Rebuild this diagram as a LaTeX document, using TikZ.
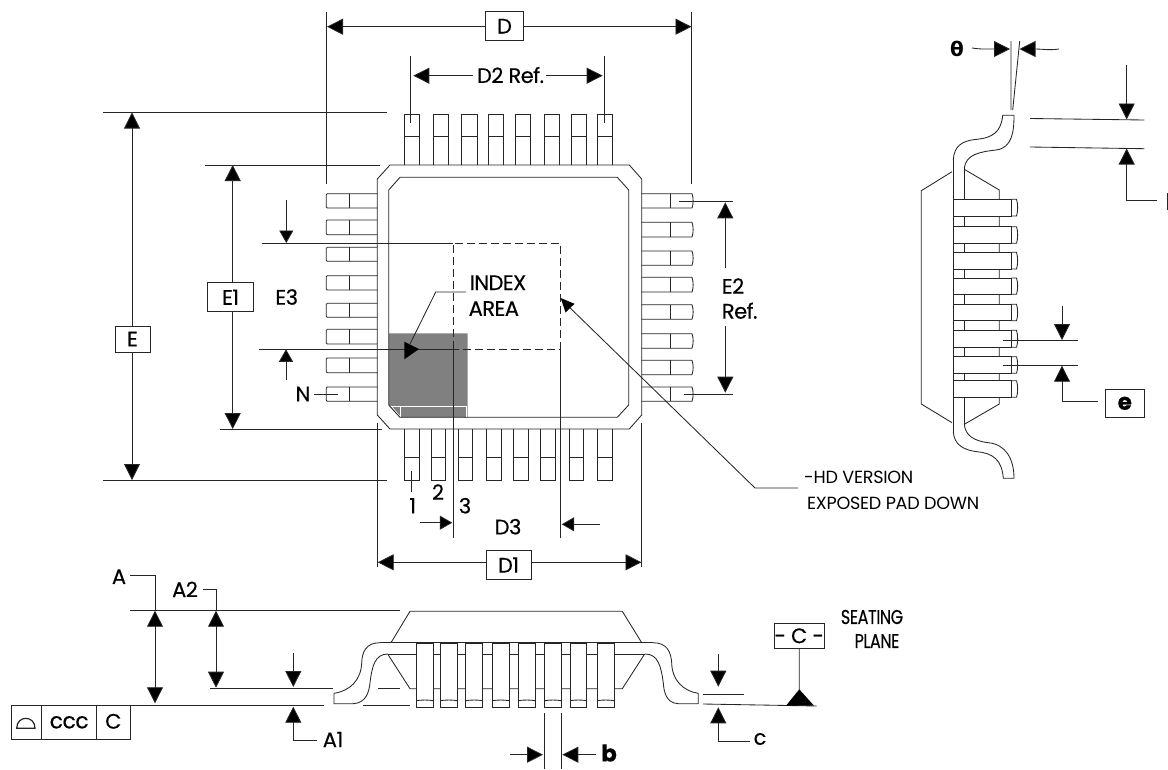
\documentclass[tikz,border=0pt]{standalone}
\usepackage{fontspec}
\setmainfont[LetterSpace=-2.5,FakeBold=0.35]{Poppins}
\newfontfamily\thinfont[LetterSpace=-1.5]{Poppins}
\newfontfamily\grk{DejaVu Sans}
\usetikzlibrary{arrows.meta}
\tikzset{
  ln/.style={line width=0.85pt,draw=black!85},
  dimto/.style={ln,-{Triangle[length=16pt,width=16pt,fill=black]}},
  dimsm/.style={ln,-{Triangle[length=12.5pt,width=14pt,fill=black]}},
  dimboth/.style={ln,{Triangle[length=16pt,width=16pt,fill=black]}-{Triangle[length=16pt,width=16pt,fill=black]}},
  lab/.style={inner sep=0pt,font=\fontsize{21}{21}\selectfont},
  thin lab/.style={inner sep=0pt,align=left,font=\thinfont\fontsize{17.6}{26}\selectfont},
  bx/.style={ln,fill=white,inner sep=0pt,font=\fontsize{21}{21}\selectfont},
  dashln/.style={ln,dash pattern=on 8pt off 4pt},
}
\begin{document}
\begin{tikzpicture}[x=1pt,y=-1pt]
\useasboundingbox (0,0) rectangle (1168,769);
\fill[white] (0,0) rectangle (1168,769);

% ---- plan view: index area
\fill[black!50] (389,333.3) -- (467.7,333.3) -- (467.7,417.3) -- (400,417.3) -- (389,405) -- cycle;
\draw[white,line width=0.9pt] (390,406.7) -- (466.3,406.7) -- (466.3,417);
\draw[white,line width=0.9pt] (400,406.7) -- (400,416.5);
\draw[white,line width=0.9pt] (391,406) -- (400,416.5);

% ---- plan view: leads
\foreach \a/\b in {404.3/419.3,433/448.3,461.7/477,488/503.3,515.3/530.7,544.3/559.7,571.3/586.7,597.3/612.7}{
  \draw[ln] (\a,165) -- (\a,114) -- (\b,114) -- (\b,165) (\a,136.7) -- (\b,136.7);}
\foreach \a/\b in {404.3/419.3,431.3/445.7,458/472.7,486.7/501.7,513.7/528.7,540.3/555,569.3/583.7,597.7/612.7}{
  \draw[ln] (\a,429) -- (\a,480.3) -- (\b,480.3) -- (\b,429) (\a,457) -- (\b,457);}
\foreach \a/\b in {193.7/208,220/234.7,247.3/261.3,275.7/290,303.3/317.3,329.3/344,358/372.7,387/401.3}{
  \draw[ln,rounded corners=1pt] (377.3,\a) -- (326.3,\a) -- (326.3,\b) -- (377.3,\b);
  \draw[ln] (349.3,\a) -- (349.3,\b);}
\foreach \a/\b in {193.7/208,222.3/237,251/265.3,277.3/292,304.7/319.3,333.7/348.3,360.3/374.7,387/401.3}{
  \draw[ln] (641.7,\a) -- (692,\a) .. controls (693.5,\a+4) and (693.5,\b-4) .. (692,\b) -- (641.7,\b);
  \draw[ln] (670,\a) -- (670,\b);}

% ---- plan view: body
\draw[ln] (390,165) -- (629.3,165) -- (641.7,179) -- (641.7,415) -- (629.3,429) -- (390,429) -- (377.3,415) -- (377.3,179) -- cycle;
\draw[ln] (400,177.3) -- (617.3,177.3) -- (628.7,190) -- (628.7,405) -- (617.3,417.3) -- (400,417.3) -- (388.7,405) -- (388.7,190) -- cycle;

% ---- exposed pad
\draw[dashln] (453,349) -- (453,243.3) -- (560.3,243.3) -- (560.3,349) -- cycle;
\coordinate (e3a) at (261.7,243.3); \coordinate (e3b) at (453,243.3);
\coordinate (e3c) at (259.3,349); \coordinate (e3d) at (453,349);
\draw[ln] (e3a) -- (e3b) (e3c) -- (e3d);
\coordinate (d3a) at (453,349); \coordinate (d3b) at (453,538);
\coordinate (d3c) at (560.3,349); \coordinate (d3d) at (560.3,538);
\draw[ln] (d3a) -- (d3b) (d3c) -- (d3d);
\draw[dimsm] (286.3,200) -- (286.3,243);
\draw[dimsm] (286,380) -- (286,349.3);
\draw[dimsm] (420,522.7) -- (452.3,522.7);
\draw[dimsm] (600,524.3) -- (561.7,524.3);

% ---- D, D1, D2
\coordinate (dl) at (326.5,12); \coordinate (dlb) at (326.5,184);
\coordinate (dr) at (691.7,12); \coordinate (drb) at (691.7,184);
\draw[ln] (dl) -- (dlb) (dr) -- (drb);
\draw[dimboth] (327,26.7) -- (691.5,26.7);
\node[bx,minimum width=38.4pt,minimum height=29pt] (boxD) at (504.5,26.2) {D};
\coordinate (d2l) at (410.7,56); \coordinate (d2lb) at (410.7,123);
\coordinate (d2r) at (604.3,56); \coordinate (d2rb) at (604.3,123);
\draw[ln] (d2l) -- (d2lb) (d2r) -- (d2rb);
\node[lab] (d2txt) at (510.5,75) {D2 Ref.};
\draw[dimto] (472.7,75.7) -- (413.3,75.7);
\draw[dimto] (546,75.7) -- (602.7,75.7);
\coordinate (d1l) at (377.5,423); \coordinate (d1lb) at (377.5,567);
\coordinate (d1r) at (641.7,423); \coordinate (d1rb) at (641.7,567);
\draw[ln] (d1l) -- (d1lb) (d1r) -- (d1rb);
\draw[dimboth] (377.7,562.3) -- (641.5,562.3);
\node[bx,minimum width=45pt,minimum height=28.6pt] (boxDa) at (508.5,565) {D1};

% ---- E, E1
\draw[ln] (103,112.3) -- (387,112.3) (205,165) -- (380,165) (220,429) -- (382,429) (103,480.3) -- (387,480.3);
\draw[dimboth] (132,112.5) -- (132,480);
\draw[dimboth] (232.7,165) -- (232.7,429);
\node[bx,minimum width=35pt,minimum height=26pt] (boxE) at (132.5,339) {E};
\node[bx,minimum width=45.6pt,minimum height=29pt] (boxEa) at (230.5,297.2) {E1};
\node[lab] (e3txt) at (286.7,297) {E3};

% ---- E2
\draw[ln] (679,201.7) -- (733,201.7) (684,394.3) -- (733,394.3);
\node[lab,anchor=west] (e2txt) at (721.7,286) {E2};
\node[lab,anchor=west] (reftxt) at (721.7,310.7) {Ref.};
\draw[dimto] (725.3,268) -- (725.3,202.3);
\draw[dimto] (725.3,326) -- (725.3,392.7);

% ---- N, numbers
\node[lab] (ntxt) at (303,394) {N};
\draw[ln] (314,394) -- (338,394);
\draw[ln] (411.7,470.7) -- (411.7,491.7);
\node[lab] (n1) at (412.7,505.7) {1};
\node[lab] (n2) at (438,492) {2};
\node[lab] (n3) at (465,505.7) {3};
\node[lab] (d3txt) at (508,526.7) {D3};

% ---- index area
\node[lab,anchor=west] (idx) at (469.5,282.7) {INDEX};
\node[lab,anchor=west] (area) at (468.5,308.5) {AREA};
\draw[ln] (466,292) -- (435.7,292) -- (410,344);
\fill[black] (419,349) -- (404.3,341.7) -- (404.3,359.3) -- cycle;

% ---- HD leader
\coordinate (hdend) at (798,488);
\draw[ln] (hdend) -- (755,488) -- (562,300);
\fill[black] (560.7,298) -- (574.5,303.8) -- (565.5,312.5) -- cycle;
\node[thin lab,anchor=north west] (hd) at (804,471) {-HD VERSION\\[0pt]\,EXPOSED PAD DOWN};

% ---- end view
\draw[ln] (952,171.7) -- (921.3,190.7) -- (921.3,404) -- (952,422.7);
\draw[ln] (964.3,169.3) -- (999.3,190) -- (999.3,404) -- (964.3,424.3);
\draw[ln] (953.3,160) -- (953.3,431.7);
\draw[ln] (964.3,168) -- (964.3,424);
\draw[ln] (953.3,160) .. controls (954,146) and (962,141) .. (975,139.5)
  .. controls (993,138) and (1001,132) .. (1002.7,115.3) -- (1014,115.3)
  .. controls (1014,132) and (1012,148) .. (996,150)
  .. controls (978,152) and (966,155) .. (964.3,168);
\draw[ln] (953.3,431.7) .. controls (954,445) and (964,450) .. (976.7,451.7)
  .. controls (993,453) and (1002,460) .. (1003.3,478.3) -- (1014,478.3)
  .. controls (1014,458) and (1005,444) .. (988,442.7)
  .. controls (975,441) and (965,436) .. (964.3,424);
\foreach \a/\b in {199.3/216,226.7/243.3,252.3/269,278/294.3,304.3/320.7,330.3/347.3,356.7/373.3,380.7/397.3}{
  \draw[ln,fill=white] (953.3,\a) -- (1011.3,\a) -- (1011.3,\b) -- (953.3,\b) -- cycle;
  \draw[ln] (1011.3,\a) -- (1016.5,\a) .. controls (1018,\a+4) and (1018,\b-4) .. (1016.5,\b) -- (1011.3,\b);}

% ---- theta
\node[inner sep=0pt,font=\fontsize{20}{20}\selectfont\grk\bfseries] (th) at (957,49) {θ};
\draw[ln] (1011,41) -- (1011,110) (1019.7,41) -- (1012.7,110);
\draw[dimto] (972,48) .. controls (982,49.5) and (988,49) .. (1010,49);
\draw[dimto] (1059,49) .. controls (1049,50.5) and (1043,49) .. (1019.5,49);

% ---- L
\draw[ln] (1030,118.5) -- (1144.3,120) (1030,147) -- (1144.3,148.7);
\draw[dimto] (1126.7,65) -- (1126.7,119.5);
\draw[dimto] (1157,200.7) -- (1126.7,200.7) -- (1126.7,148.5);
\draw[ln] (1167.5,193) -- (1167.5,210);

% ---- e
\draw[ln] (1002.7,340) -- (1078.3,340) (1002.7,365.7) -- (1078.3,365.7);
\draw[dimto] (1062,305.7) -- (1062,340);
\node[bx,minimum width=39pt,minimum height=28pt,font=\fontsize{23}{23}\selectfont\bfseries] (boxe) at (1124.8,403.3) {e};
\draw[dimto] (1097.7,401) -- (1062,401) -- (1062,365.7);

% ---- side view
\draw[ln] (410,611.3) -- (622.3,611.3) (410,611.3) -- (391,642.7) (622.3,611.3) -- (641.7,642.7);
\draw[ln] (388.3,655) -- (410,688.7) -- (622.3,688.7) -- (644,655);
\draw[ln] (380,642.7) -- (653,642.7) (388,654) -- (645,654);
\draw[ln] (380,642.7) .. controls (366,642.7) and (362,652) .. (361.7,663)
  .. controls (361,680) and (350,691) .. (334,693.3) -- (334,703.7) -- (353.3,703.7)
  .. controls (366,703) and (369,692) .. (370,683)
  .. controls (372,666) and (375,654) .. (388,654);
\draw[ln] (653,642.7) .. controls (667,642.7) and (671,652) .. (671.7,663)
  .. controls (672,680) and (683,691) .. (698.3,693.3) -- (698.3,703.7) -- (678.3,703.7)
  .. controls (666,703) and (664,692) .. (663.3,683)
  .. controls (661,666) and (658,654) .. (645,654);
\foreach \a/\b in {416.3/433.3,440.3/457.3,465.7/482.7,492.3/509.3,518.3/535.3,544.7/561.3,570/586.7,597.3/614.3}{
  \draw[ln,fill=white] (\a,643.3) -- (\b,643.3) -- (\b,707.3) -- (\a,707.3) -- cycle;
  \draw[ln] (\a,700.7) .. controls (\a+5,699.8) and (\b-5,699.8) .. (\b,700.7);}

% ---- A dims
\draw[ln] (130,610.7) -- (400,610.7);
\draw[ln] (210,688.3) -- (332.7,688.3) (378,688.7) -- (400,688.7);
\draw[ln] (130,705.3) -- (324,705.3) (363.3,705.3) -- (410,705.3);
\node[lab] (atxt) at (119,576.7) {A};
\node[lab] (a2txt) at (185,589.3) {A2};
\node[lab] (a1txt) at (333,739.5) {A1};
\draw[dimboth] (155,610.7) -- (155,703.3);
\draw[ln] (130,575.7) -- (155,575.7) -- (155,610.7);
\draw[dimboth] (216,610.7) -- (216,687.7);
\draw[ln] (203.3,589.3) -- (216,589.3) -- (216,610.7);
\draw[dimto] (293.3,653.3) -- (293.3,687);
\draw[dimto] (316.7,740.3) -- (293.3,740.3) -- (293.3,706.7);

% ---- ccc frame
\node[ln,fill=white,minimum width=30.7pt,minimum height=34pt,inner sep=0pt] (fa) at (26.35,722.3) {};
\node[ln,fill=white,minimum width=55pt,minimum height=34pt,inner sep=0pt] (fb) at (69.2,722.3) {};
\node[ln,fill=white,minimum width=33.3pt,minimum height=34pt,inner sep=0pt] (fc) at (113.35,722.3) {};
\node[inner sep=0pt,font=\fontsize{22}{22}\selectfont] (ftb) at (fb.center) {ccc};
\node[inner sep=0pt,font=\fontsize{21}{21}\selectfont] (ftc) at ([yshift=1pt]fc.center) {C};
\draw[ln,line width=1.2pt] (16.7,728.3) -- (35,728.3) .. controls (35,715) and (16.7,715) .. (16.7,728.3) -- cycle;

% ---- b
\draw[ln] (544.7,713.3) -- (544.7,769) (561,713.3) -- (561,769);
\draw[dimto] (510,754.7) -- (543,754.7);
\draw[dimto] (596,754.7) -- (562.3,754.7);
\node[inner sep=0pt,font=\fontsize{23}{23}\selectfont\bfseries] (btxt) at (609,753) {b};

% ---- c
\draw[ln] (703,694.3) -- (744.3,694.3);
\draw[ln] (703,704) -- (816.7,706);
\draw[dimto] (718.3,654.3) -- (718.3,686.7);
\node[lab] (ctxt) at (760,739) {c};
\draw[dimto] (750,741.5) -- (718.3,741.5) -- (718.3,707.3);

% ---- seating plane
\node[bx,minimum width=47.7pt,minimum height=25pt] (boxC) at (799.2,635.8) {- C -};
\fill[black] (799.3,689.3) -- (786,705.7) -- (814,705.7) -- cycle;
\draw[ln] (boxC.south) -- (799.3,690);
\node[inner sep=0pt,font=\fontsize{20}{20}\selectfont] (seat) at (872,617) {\scalebox{0.8}[1]{SEATING}};
\node[inner sep=0pt,font=\fontsize{20}{20}\selectfont] (plane) at (877,641) {\scalebox{0.8}[1]{PLANE}};
\end{tikzpicture}
\end{document}
